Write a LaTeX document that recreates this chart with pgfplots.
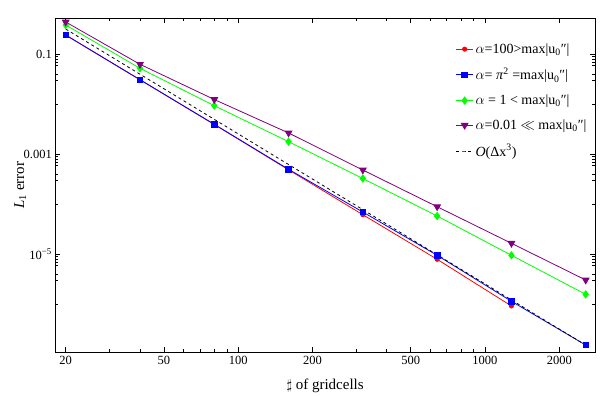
\documentclass[border=0pt]{standalone}
\usepackage{pgfplots}
\pgfplotsset{compat=1.18}
\usepackage{fontspec}
\setmainfont{Liberation Serif}

\definecolor{mred}{rgb}{1,0,0}
\definecolor{mblue}{rgb}{0,0,1}
\definecolor{mgreen}{rgb}{0,1,0}
\definecolor{mpurple}{rgb}{0.5,0,0.5}

\begin{document}
\begin{tikzpicture}[x=1pt,y=1pt]
\path[use as bounding box] (-55.3,-43.7) rectangle (544.7,352.3);
\begin{axis}[
    at={(0,0)}, anchor=south west,
    scale only axis, width=539.7pt, height=334pt,
    xmode=log, ymode=log,
    xmin=18.15, xmax=2792,
    ymin=1.096e-7, ymax=0.525,
    axis line style={line width=0.9pt},
    tick style={black, line width=0.6pt},
    major tick length=5pt, minor tick length=3pt,
    xtick={20,50,100,200,500,1000,2000},
    xticklabels={20,50,100,200,500,1000,2000},
    minor xtick={30,40,60,70,80,90,300,400,600,700,800,900},
    ytick={0.1,0.001,1e-5},
    yticklabels={0.1,0.001,10\textsuperscript{−5}},
    minor ytick={0.09,0.08,0.07,0.06,0.04,0.03,0.01,
                 9e-4,8e-4,7e-4,6e-4,4e-4,3e-4,1e-4,
                 9e-6,8e-6,7e-6,6e-6,4e-6,3e-6,1e-6},
    tick label style={font=\fontsize{12.5}{13}\selectfont},
    xlabel={{\Large$\sharp$} of gridcells},
    ylabel={\textit{L}\textsubscript{1} error},
    label style={font=\fontsize{15}{16}\selectfont},
    xlabel style={at={(axis description cs:0.5,-0.099)}, anchor=center},
    ylabel style={at={(axis description cs:-0.065,0.5)}, anchor=center},
    legend style={at={(0.736,0.937)}, anchor=north west, draw=none, fill=none,
                  font=\fontsize{14}{15}\selectfont, row sep=9.5pt},
    legend cell align=left,
]
\addplot[mred, line width=0.8pt, mark=*, mark size=2.1pt] coordinates {
    (20,0.243) (40,0.0310) (80,0.00395) (160,4.9e-4)
    (320,6.19e-5) (640,7.94e-6) (1280,9.25e-7)
};
\addlegendentry{$\alpha$=100>max|u\textsubscript{0}″|}

\addplot[mblue, line width=0.8pt, mark=square*, mark size=2.8pt] coordinates {
    (20,0.243) (40,0.0310) (80,0.00398) (160,5.01e-4)
    (320,7.01e-5) (640,9.55e-6) (1280,1.15e-6) (2560,1.53e-7)
};
\addlegendentry{$\alpha$= \textit{π}\textsuperscript{2} =max|u\textsubscript{0}″|}

\addplot[mgreen, line width=0.8pt, mark=diamond*, mark size=3.6pt] coordinates {
    (20,0.386) (40,0.0525) (80,0.00938) (160,0.00179)
    (320,3.28e-4) (640,5.83e-5) (1280,9.55e-6) (2560,1.58e-6)
};
\addlegendentry{$\alpha$ = 1 < max|u\textsubscript{0}″|}

\addplot[mpurple, line width=0.8pt, mark=triangle*, mark size=3.8pt,
         mark options={rotate=180}] coordinates {
    (20,0.443) (40,0.0631) (80,0.01247) (160,0.00267)
    (320,4.85e-4) (640,8.95e-5) (1280,1.66e-5) (2560,3.06e-6)
};
\addlegendentry{$\alpha$=0.01 $\ll$ max|u\textsubscript{0}″|}

% reference slope
\addplot[black, line width=0.8pt, dash pattern=on 3pt off 3pt] coordinates {
    (20,0.32) (2560,1.526e-7)
};
\addlegendentry{\textit{O}(Δx\textsuperscript{3})}
\end{axis}
\end{tikzpicture}
\end{document}
